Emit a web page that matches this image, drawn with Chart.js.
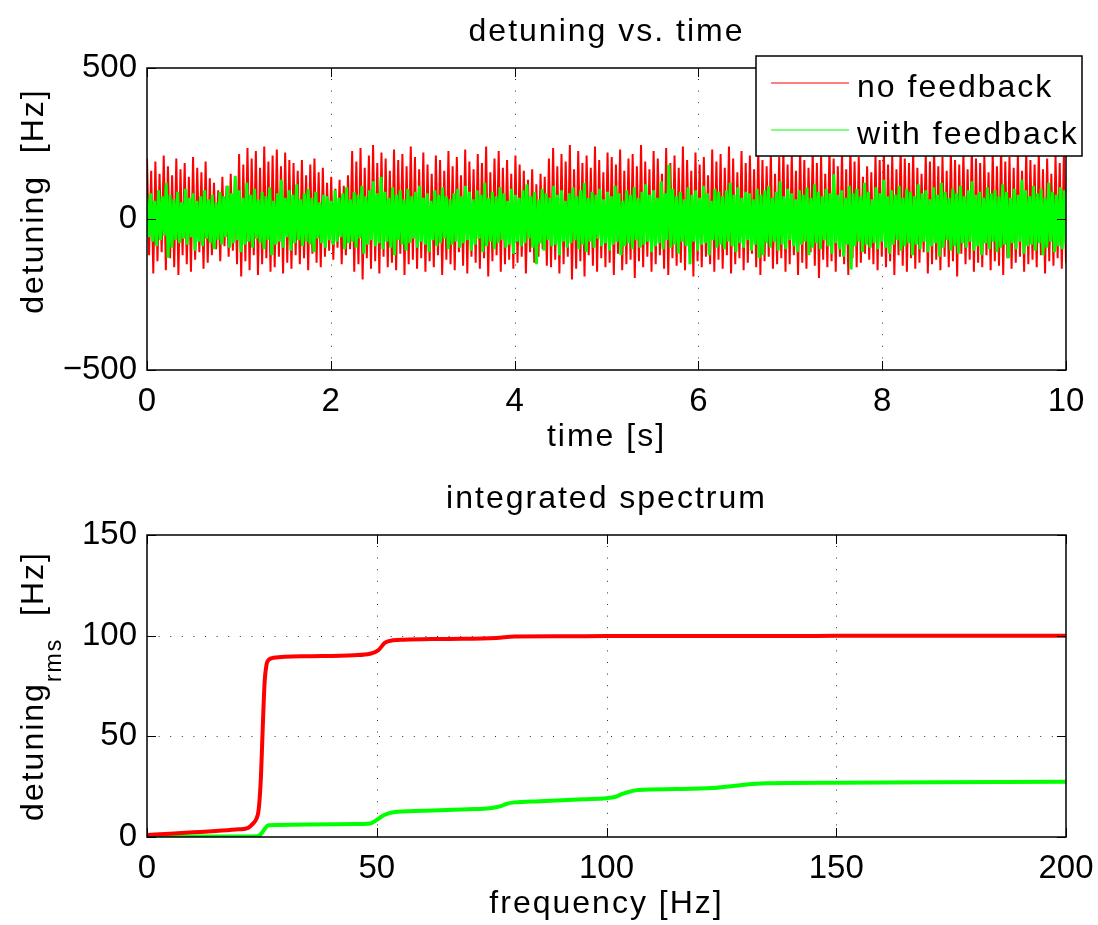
<!DOCTYPE html>
<html>
<head>
<meta charset="utf-8">
<script src="https://cdn.jsdelivr.net/npm/chart.js@4.4.1/dist/chart.umd.min.js"></script>
<style>
  html, body { margin: 0; padding: 0; background: #fff; }
  canvas { position: absolute; left: 0; }
  #timeChart { top: 0; }
  #specChart { top: 462px; }
</style>
</head>
<body>
<canvas id="timeChart" width="1098" height="462"></canvas>
<canvas id="specChart" width="1098" height="463"></canvas>
<script>
// ---- data ----

// top plot: detuning [Hz] samples, evenly spread over 0..10 s
const redDetuning = [
  200,-120,160,-180,190,-140,150,-110,210,-170,175,-130,145,-160,200,-185,165,-120,185,-150,
  140,-175,205,-135,170,-110,155,-165,190,-145,135,-120,
  120,-100,95,-140,140,-90,110,-125,150,-105,130,-150,
  215,-190,180,-140,235,-170,200,-120,225,-185,170,-150,240,-130,190,-175,210,-160,230,-125,
  175,-180,220,-145,195,-165,185,-120,
  160,-150,195,-130,145,-170,180,-115,200,-145,155,-160,170,-125,
  120,-105,140,-135,100,-95,130,-150,110,-120,145,-100,
  225,-175,190,-150,235,-200,170,-130,210,-165,245,-140,185,-180,220,-125,200,-160,160,-145,
  230,-170,195,-115,215,-185,175,-150,240,-135,205,-165,165,-130,220,-175,
  180,-140,150,-160,210,-120,195,-185,160,-135,225,-150,175,-170,205,-110,145,-155,230,-180,
  190,-125,165,-145,215,-165,185,-130,240,-190,155,-140,200,-120,225,-175,170,-150,195,-135,
  150,-165,210,-145,180,-125,160,-180,
  130,-110,165,-145,115,-125,150,-100,140,-155,
  200,-160,235,-135,175,-180,215,-150,190,-125,245,-200,165,-165,225,-140,185,-190,210,-120,
  170,-155,240,-175,195,-130,155,-160,220,-145,205,-185,180,-115,230,-170,160,-150,200,-135,
  215,-195,175,-140,245,-160,190,-125,165,-175,225,-150,200,-120,150,-165,235,-185,185,-130,
  210,-155,170,-145,240,-170,195,-110,160,-190,220,-140,180,-160,205,-125,145,-150,230,-175,
  190,-135,215,-165,170,-120,240,-180,200,-150,155,-130,225,-170,185,-145,210,-115,165,-160,
  235,-185,195,-140,175,-125,220,-165,150,-150,
  205,-130,230,-175,180,-150,215,-120,160,-185,240,-145,195,-165,170,-110,225,-155,185,-195,
  210,-135,150,-160,235,-140,200,-175,175,-125,220,-150,165,-185,245,-130,190,-160,205,-145,
  140,-115,175,-135,155,-150,215,-170,195,-125,230,-160,180,-140,210,-185,165,-120,240,-155,
  200,-175,185,-130,225,-165,170,-145,150,-110,215,-180,190,-150,235,-135,175,-170,205,-125,
  160,-160,230,-140,195,-190,180,-115,220,-150,165,-135,240,-175,200,-145,185,-160,210,-120,
  155,-170,225,-140,175,-155,245,-185,190,-130,205,-165,170,-145,215,-125,160,-175,230,-150,
  195,-135,180,-160,220,-120,165,-180,200,-140,150,-155,210,-130,185,-165,225,-145
];

const greenDetuning = [
  70,-60,85,-75,60,-90,95,-70,75,-55,120,-128,80,-95,65,-70,90,-80,55,-65,
  100,-85,70,-60,85,-105,60,-75,75,-90,95,-65,65,-80,80,-100,55,-70,90,-85,
  75,-60,110,-95,85,-80,143,-70,95,-110,70,-85,120,-75,80,-95,100,-65,65,-80,
  90,-100,75,-70,105,-120,60,-85,85,-75,130,-95,70,-60,95,-105,80,-80,115,-70,
  65,-90,85,-75,100,-85,70,-110,90,-65,55,-80,80,-95,75,-70,60,-85,95,-75,
  70,-60,85,-100,105,-80,65,-75,90,-95,80,-65,110,-115,75,-85,95,-70,125,-90,
  85,-80,140,-100,90,-75,70,-95,105,-120,80,-70,95,-85,65,-105,100,-80,75,-65,
  90,-95,110,-75,70,-85,85,-110,60,-70,95,-90,80,-80,105,-65,75,-100,65,-85,
  85,-75,100,-95,75,-80,110,-70,90,-105,65,-85,95,-65,80,-110,120,-90,70,-75,
  90,-100,75,-80,105,-70,85,-95,60,-85,100,-115,80,-75,70,-90,95,-80,115,-65,
  75,-95,90,-150,65,-80,100,-105,85,-70,70,-90,110,-85,80,-120,95,-75,60,-95,
  85,-80,105,-70,75,-100,95,-85,120,-110,70,-75,90,-95,80,-65,100,-90,65,-80,
  90,-105,75,-85,110,-75,85,-120,60,-90,95,-80,80,-100,105,-70,70,-95,90,-85,
  115,-75,80,-110,95,-90,70,-80,125,-100,85,-70,180,-95,100,-85,75,-115,90,-75,
  65,-90,105,-150,80,-75,95,-105,70,-85,110,-80,85,-120,60,-70,100,-95,90,-85,
  75,-100,95,-75,120,-90,80,-110,105,-80,70,-95,90,-70,85,-105,65,-85,100,-130,
  80,-120,95,-80,110,-95,70,-75,90,-105,125,-85,75,-100,100,-70,85,-90,65,-110,
  95,-85,80,-75,105,-120,70,-95,115,-80,90,-100,75,-70,100,-90,85,-115,148,-80,
  80,-100,95,-125,70,-85,110,-167,85,-90,100,-75,75,-110,120,-85,90,-95,65,-80,
  105,-100,85,-75,130,-95,75,-115,95,-85,80,-70,110,-105,70,-90,100,-80,90,-120,
  75,-85,115,-100,85,-75,95,-110,65,-90,105,-80,80,-125,120,-95,90,-70,70,-105,
  100,-90,85,-115,110,-80,75,-95,95,-75,125,-105,80,-90,90,-120,70,-80,105,-100,
  85,-75,95,-110,75,-95,115,-85,90,-130,70,-80,100,-100,80,-75,130,-115,95,-90,
  75,-85,110,-105,85,-80,100,-120,70,-95,120,-75,90,-110,80,-90,105,-100,95,-85
];

// bottom plot: integrated spectrum, detuning_rms [Hz] vs frequency [Hz]
const specFreqNoFb = [0,5,10,15,20,22,23,23.8,24.3,24.8,25.2,25.6,26,26.5,27.5,35,45,48.5,50.3,51.8,53.6,56,65,76,80,90,100,150,200];
const specNoFb     = [1,1.6,2.3,3,3.8,4.5,6.5,9,13.5,30,55,77,85.5,88,89,89.8,90.3,91,92.7,96.5,97.7,98,98.4,98.9,99.6,99.7,99.8,99.9,100];
const specFreqFb = [0,10,20,24,24.8,25.6,26.4,28,35,45,48.5,50,51.5,53.6,60,70,74.6,77,78.3,80,85.5,95,100,102,103.6,106.9,115,123,128,134.7,150,200];
const specFb     = [0.2,0.2,0.3,0.4,1.5,4,5.8,6,6.2,6.4,6.7,8.5,10.8,12.3,13,13.8,14.3,15.3,16.5,17.2,17.8,18.8,19.3,20,21.5,23.3,23.8,24.3,25.5,26.7,27,27.4];

// tick labels
const timeTicks = [0, 2, 4, 6, 8, 10];
const detuningTicks = [-500, 0, 500];
const freqTicks = [0, 50, 100, 150, 200];
const rmsTicks = [0, 50, 100, 150];

// ---- drawing ----
const FONT = '"Liberation Sans", Arial, Helvetica, sans-serif';

// sample times for the time trace (evenly spaced over 0..10 s)
const sampleTimes = (arr) => arr.map((_, i) => i * 10 / (arr.length - 1));
const toPoints = (xs, ys) => ys.map((v, i) => ({ x: xs[i], y: v }));

// write text with a bit of letter spacing, like the matlab export
function putText(ctx, text, x, y, size, align) {
  ctx.font = size + 'px ' + FONT;
  ctx.letterSpacing = '2px';
  ctx.textAlign = align || 'left';
  ctx.textBaseline = 'alphabetic';
  ctx.fillStyle = '#000';
  ctx.fillText(text, x, y);
}

// frame plugin: dotted grid, box, inward ticks, labels and legend
function makeFrame(cfg) {
  return {
    id: 'frame',
    beforeDatasetsDraw(chart) {
      const { ctx, chartArea: a, scales: { x, y } } = chart;
      ctx.save();
      ctx.strokeStyle = '#333';
      ctx.lineWidth = 1;
      ctx.setLineDash([1, 10.6]);
      x.ticks.forEach((t) => {
        const px = Math.round(x.getPixelForValue(t.value)) + 0.5;
        if (px < a.left + 2 || px > a.right - 2) return;
        ctx.beginPath(); ctx.moveTo(px, a.bottom); ctx.lineTo(px, a.top); ctx.stroke();
      });
      y.ticks.forEach((t) => {
        const py = Math.round(y.getPixelForValue(t.value)) + 0.5;
        if (py < a.top + 2 || py > a.bottom - 2) return;
        ctx.beginPath(); ctx.moveTo(a.left, py); ctx.lineTo(a.right, py); ctx.stroke();
      });
      ctx.restore();
    },
    afterDatasetsDraw(chart) {
      const { ctx, chartArea: a, scales: { x, y } } = chart;
      ctx.save();
      ctx.strokeStyle = '#000';
      ctx.lineWidth = 1.5;
      ctx.strokeRect(a.left, a.top, a.right - a.left, a.bottom - a.top);
      // ticks point into the plot
      ctx.lineWidth = 1;
      const tl = 9;
      x.ticks.forEach((t) => {
        const px = Math.round(x.getPixelForValue(t.value)) + 0.5;
        ctx.beginPath();
        ctx.moveTo(px, a.bottom); ctx.lineTo(px, a.bottom - tl);
        ctx.moveTo(px, a.top); ctx.lineTo(px, a.top + tl);
        ctx.stroke();
      });
      y.ticks.forEach((t) => {
        const py = Math.round(y.getPixelForValue(t.value)) + 0.5;
        ctx.beginPath();
        ctx.moveTo(a.left, py); ctx.lineTo(a.left + tl, py);
        ctx.moveTo(a.right, py); ctx.lineTo(a.right - tl, py);
        ctx.stroke();
      });
      ctx.restore();
    },
    afterDraw(chart) {
      const { ctx, chartArea: a } = chart;
      const cx = (a.left + a.right) / 2;
      ctx.save();
      putText(ctx, cfg.title, cx, a.top - 27.3, 32, 'center');
      putText(ctx, cfg.xLabel, cx, a.bottom + 75.7, 32, 'center');

      // y label, rotated, may carry a subscript
      ctx.save();
      ctx.translate(43, (a.top + a.bottom) / 2 - (cfg.yLabelLift || 0));
      ctx.rotate(-Math.PI / 2);
      let total = 0;
      cfg.yLabel.forEach((p) => {
        ctx.font = (p.size || 32) + 'px ' + FONT;
        ctx.letterSpacing = '2px';
        total += ctx.measureText(p.text).width;
      });
      let pos = -total / 2;
      cfg.yLabel.forEach((p) => {
        putText(ctx, p.text, pos, p.shift || 0, p.size || 32, 'left');
        pos += ctx.measureText(p.text).width;
      });
      ctx.restore();

      if (cfg.legend) {
        const L = cfg.legend;
        ctx.fillStyle = '#fff';
        ctx.fillRect(L.x, L.y, L.w, L.h);
        ctx.strokeStyle = '#000';
        ctx.lineWidth = 1.5;
        ctx.strokeRect(L.x, L.y, L.w, L.h);
        chart.data.datasets.forEach((ds, i) => {
          const ly = L.y + 27 + i * 47;
          ctx.strokeStyle = ds.borderColor;
          ctx.lineWidth = 1.2;
          ctx.beginPath(); ctx.moveTo(L.x + 15, ly); ctx.lineTo(L.x + 93, ly); ctx.stroke();
          putText(ctx, ds.label, L.x + 101, ly + 13.5, 32, 'left');
        });
      }
      ctx.restore();
    }
  };
}

function axisOptions(ticks, min, max, isX, size) {
  return {
    type: 'linear',
    min: min,
    max: max,
    afterBuildTicks: (s) => { s.ticks = ticks.map((v) => ({ value: v })); },
    grid: { display: false, drawTicks: false },
    border: { display: false },
    ticks: {
      color: '#000',
      font: { family: FONT, size: 33 },
      padding: isX ? 12 : 10,
      maxRotation: 0,
      autoSkip: false,
      callback: (v) => String(v).replace('-', '\u2212')
    },
    afterFit: (s) => {
      if (isX) { s.height = size; s.paddingLeft = 0; s.paddingRight = 0; }
      else { s.width = size; s.paddingTop = 0; s.paddingBottom = 0; }
    }
  };
}

const baseOptions = (padTop, xAxis, yAxis) => ({
  responsive: false,
  animation: false,
  events: [],
  layout: { padding: { left: 0, right: 32, top: padTop, bottom: 0 } },
  plugins: { legend: { display: false }, title: { display: false }, tooltip: { enabled: false } },
  scales: { x: xAxis, y: yAxis }
});

// detuning vs. time
new Chart(document.getElementById('timeChart'), {
  type: 'line',
  data: {
    datasets: [
      {
        label: 'no feedback',
        data: toPoints(sampleTimes(redDetuning), redDetuning),
        borderColor: '#ff0000',
        borderWidth: 2,
        pointRadius: 0,
        order: 2
      },
      {
        label: 'with feedback',
        data: toPoints(sampleTimes(greenDetuning), greenDetuning),
        borderColor: '#00ff00',
        borderWidth: 3,
        pointRadius: 0,
        order: 1
      }
    ]
  },
  options: baseOptions(68,
    axisOptions(timeTicks, 0, 10, true, 92),
    axisOptions(detuningTicks, -500, 500, false, 147)),
  plugins: [makeFrame({
    title: 'detuning vs. time',
    xLabel: 'time [s]',
    yLabel: [{ text: 'detuning  [Hz]' }],
    yLabelLift: 18,
    legend: { x: 756, y: 56, w: 326, h: 100 }
  })]
});

// integrated spectrum
new Chart(document.getElementById('specChart'), {
  type: 'line',
  data: {
    datasets: [
      {
        label: 'no feedback',
        data: toPoints(specFreqNoFb, specNoFb),
        borderColor: '#ff0000',
        borderWidth: 4,
        pointRadius: 0,
        cubicInterpolationMode: 'monotone'
      },
      {
        label: 'with feedback',
        data: toPoints(specFreqFb, specFb),
        borderColor: '#00ff00',
        borderWidth: 4,
        pointRadius: 0,
        cubicInterpolationMode: 'monotone'
      }
    ]
  },
  options: baseOptions(73,
    axisOptions(freqTicks, 0, 200, true, 88),
    axisOptions(rmsTicks, 0, 150, false, 147)),
  plugins: [makeFrame({
    title: 'integrated spectrum',
    xLabel: 'frequency [Hz]',
    yLabel: [{ text: 'detuning' }, { text: 'rms', size: 23, shift: 18 }, { text: '  [Hz]' }]
  })]
});
</script>
</body>
</html>
